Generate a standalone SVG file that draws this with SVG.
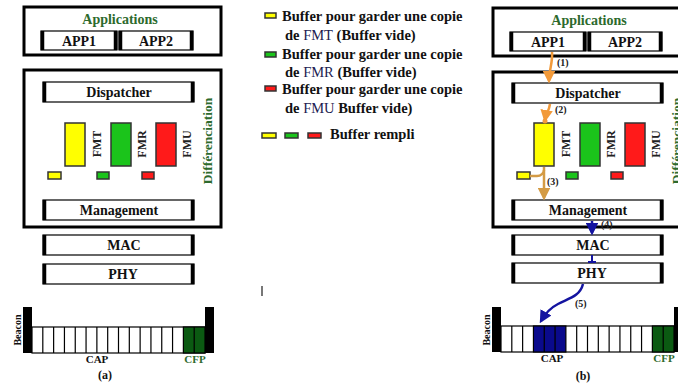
<svg xmlns="http://www.w3.org/2000/svg" width="678" height="390" viewBox="0 0 678 390" font-family="'Liberation Serif','Times New Roman',serif">
<style>
text{font-family:"Liberation Serif","Times New Roman",serif;font-weight:bold}
.outer{fill:none;stroke:#000;stroke-width:3}
.ib{fill:#fff;stroke:#000;stroke-width:1.2}
.cap{stroke:#000;stroke-width:3.5}
.lbl{font-size:14px;text-anchor:middle;fill:#111}
.grn{fill:#2d6a2d}
.bar{stroke:#333;stroke-width:1.5}
.y{fill:#ffff00}.g{fill:#1bc41b}.r{fill:#ff1a1a}
.vt{font-size:12px;text-anchor:middle;fill:#222}
.leg{font-size:14.5px;fill:#111}
.fm{font-weight:normal;fill:#1c1c50}
.slot{fill:#fff;stroke:#000;stroke-width:1.2}
.sl{stroke:#000;stroke-width:1.2}
.small{font-size:11px;text-anchor:middle}
.num{font-size:10px;fill:#222}
</style>
<defs>
<marker id="ao" viewBox="0 0 10 10" refX="8" refY="5" markerWidth="5" markerHeight="5" orient="auto"><path d="M0,0 L10,5 L0,10 Z" fill="#f29a3a"/></marker>
<marker id="at" viewBox="0 0 10 10" refX="8" refY="5" markerWidth="5" markerHeight="5" orient="auto"><path d="M0,0 L10,5 L0,10 Z" fill="#d49b45"/></marker>
<marker id="ab" viewBox="0 0 10 10" refX="8" refY="5" markerWidth="5" markerHeight="5" orient="auto"><path d="M0,0 L10,5 L0,10 Z" fill="#1414a0"/></marker>
</defs>

<!-- Panel (a) -->
<g id="a-applications">
<rect class="outer" x="24" y="7" width="197" height="48"/>
<text class="lbl grn" x="120" y="24">Applications</text>
</g>
<g id="a-app1"><rect class="ib" x="41" y="31" width="76" height="19"/><path class="cap" d="M42.5,31V50M115.5,31V50"/><text class="lbl" x="79" y="46">APP1</text></g>
<g id="a-app2"><rect class="ib" x="119" y="31" width="74" height="19"/><path class="cap" d="M120.5,31V50M191.5,31V50"/><text class="lbl" x="156" y="46">APP2</text></g>
<g id="a-diff">
<rect class="outer" x="24" y="70" width="197" height="157"/>
<text class="grn" font-size="13.5" text-anchor="middle" transform="translate(212,141) rotate(-90)">Différenciation</text>
</g>
<g id="a-dispatcher"><rect class="ib" x="43" y="82" width="151" height="20"/><path class="cap" d="M44.5,82V102M192.5,82V102"/><text class="lbl" x="119" y="97">Dispatcher</text></g>
<g id="a-fmt"><rect class="bar y" x="65" y="123" width="20" height="43"/><text class="vt" transform="translate(101,144) rotate(-90)">FMT</text><rect class="bar y" x="48" y="172" width="13" height="7"/></g>
<g id="a-fmr"><rect class="bar g" x="111" y="123" width="20" height="43"/><text class="vt" transform="translate(146,144) rotate(-90)">FMR</text><rect class="bar g" x="97" y="172" width="12" height="7"/></g>
<g id="a-fmu"><rect class="bar r" x="156" y="123" width="20" height="43"/><text class="vt" transform="translate(191,144) rotate(-90)">FMU</text><rect class="bar r" x="142" y="172" width="12" height="7"/></g>
<g id="a-management"><rect class="ib" x="43" y="200" width="151" height="20"/><path class="cap" d="M44.5,200V220M192.5,200V220"/><text class="lbl" x="119" y="215">Management</text></g>
<g id="a-mac"><rect class="ib" x="43" y="235" width="151" height="20"/><path class="cap" d="M44.5,235V255M192.5,235V255"/><text class="lbl" x="124" y="250">MAC</text></g>
<g id="a-phy"><rect class="ib" x="43" y="264" width="151" height="20"/><path class="cap" d="M44.5,264V284M192.5,264V284"/><text class="lbl" x="123" y="279">PHY</text></g>
<g id="a-superframe">
<rect x="23" y="307" width="9" height="46" fill="#000"/>
<rect x="205" y="307" width="9" height="46" fill="#000"/>
<rect class="slot" x="32" y="327" width="173" height="26"/>
<rect x="183.38" y="327" width="21.62" height="26" fill="#0b5a12" stroke="#000" stroke-width="1.2"/>
<path class="sl" d="M42.81,327V353M53.63,327V353M64.44,327V353M75.25,327V353M86.06,327V353M96.88,327V353M107.69,327V353M118.5,327V353M129.31,327V353M140.13,327V353M150.94,327V353M161.75,327V353M172.56,327V353M194.19,327V353"/>
<text font-size="10" text-anchor="middle" fill="#111" transform="translate(21,330) rotate(-90)">Beacon</text>
<text class="small" x="97" y="363" fill="#111">CAP</text>
<text class="small grn" x="195" y="363">CFP</text>
</g>
<text id="a-caption" x="105" y="379" font-size="12" text-anchor="middle" fill="#111">(a)</text>

<!-- Legend -->
<g id="legend">
<rect class="bar y" x="265" y="13" width="11" height="5" stroke-width="1.2"/>
<text class="leg" x="282" y="21">Buffer pour garder une copie</text>
<text class="leg" x="285" y="40">de <tspan class="fm">FMT</tspan> (Buffer vide)</text>
<rect class="bar g" x="265" y="52" width="11" height="5" stroke-width="1.2"/>
<text class="leg" x="282" y="59">Buffer pour garder une copie</text>
<text class="leg" x="285" y="77">de <tspan class="fm">FMR</tspan> (Buffer vide)</text>
<rect class="bar r" x="265" y="86" width="11" height="5" stroke-width="1.2"/>
<text class="leg" x="282" y="94">Buffer pour garder une copie</text>
<text class="leg" x="285" y="113">de <tspan class="fm">FMU</tspan> Buffer vide)</text>
<rect class="bar y" x="262" y="133" width="14" height="5" stroke-width="1.2"/>
<rect class="bar g" x="285" y="133" width="13" height="5" stroke-width="1.2"/>
<rect class="bar r" x="308" y="133" width="13" height="5" stroke-width="1.2"/>
<text class="leg" x="330" y="139">Buffer rempli</text>
</g>
<rect x="261" y="286" width="2" height="10" fill="#777"/>

<!-- Panel (b) -->
<g id="b-applications">
<rect class="outer" x="493" y="8" width="197" height="48"/>
<text class="lbl grn" x="589" y="25">Applications</text>
</g>
<g id="b-app1"><rect class="ib" x="510" y="32" width="76" height="19"/><path class="cap" d="M511.5,32V51M584.5,32V51"/><text class="lbl" x="548" y="47">APP1</text></g>
<g id="b-app2"><rect class="ib" x="588" y="32" width="74" height="19"/><path class="cap" d="M589.5,32V51M660.5,32V51"/><text class="lbl" x="625" y="47">APP2</text></g>
<g id="b-diff">
<rect class="outer" x="493" y="72" width="197" height="155"/>
<text class="grn" font-size="13.5" text-anchor="middle" transform="translate(681,141) rotate(-90)">Différenciation</text>
</g>
<g id="b-dispatcher"><rect class="ib" x="512" y="83" width="151" height="20"/><path class="cap" d="M513.5,83V103M661.5,83V103"/><text class="lbl" x="588" y="98">Dispatcher</text></g>
<g id="b-fmt"><rect class="bar y" x="534" y="123" width="20" height="43"/><text class="vt" transform="translate(570,144) rotate(-90)">FMT</text><rect class="bar y" x="517" y="172" width="13" height="7"/></g>
<g id="b-fmr"><rect class="bar g" x="580" y="123" width="20" height="43"/><text class="vt" transform="translate(615,144) rotate(-90)">FMR</text><rect class="bar g" x="566" y="172" width="12" height="7"/></g>
<g id="b-fmu"><rect class="bar r" x="625" y="123" width="20" height="43"/><text class="vt" transform="translate(660,144) rotate(-90)">FMU</text><rect class="bar r" x="611" y="172" width="12" height="7"/></g>
<g id="b-management"><rect class="ib" x="512" y="200" width="151" height="20"/><path class="cap" d="M513.5,200V220M661.5,200V220"/><text class="lbl" x="588" y="215">Management</text></g>
<g id="b-mac"><rect class="ib" x="512" y="235" width="151" height="20"/><path class="cap" d="M513.5,235V255M661.5,235V255"/><text class="lbl" x="593" y="250">MAC</text></g>
<g id="b-phy"><rect class="ib" x="512" y="263" width="151" height="20"/><path class="cap" d="M513.5,263V283M661.5,263V283"/><text class="lbl" x="592" y="278">PHY</text></g>
<g id="b-superframe">
<rect x="492" y="307" width="9" height="45" fill="#000"/>
<rect x="674" y="307" width="9" height="45" fill="#000"/>
<rect class="slot" x="501" y="326" width="173" height="26"/>
<rect x="533.44" y="326" width="32.44" height="26" fill="#0a0a8c" stroke="#000" stroke-width="1.2"/>
<rect x="652.38" y="326" width="21.62" height="26" fill="#0b5a12" stroke="#000" stroke-width="1.2"/>
<path class="sl" d="M511.81,326V352M522.63,326V352M544.25,326V352M555.06,326V352M576.69,326V352M587.5,326V352M598.31,326V352M609.13,326V352M619.94,326V352M630.75,326V352M641.56,326V352M663.19,326V352"/>
<text font-size="10" text-anchor="middle" fill="#111" transform="translate(490,330) rotate(-90)">Beacon</text>
<text class="small" x="552" y="362" fill="#111">CAP</text>
<text class="small grn" x="664" y="362">CFP</text>
</g>
<text id="b-caption" x="583" y="380" font-size="12" text-anchor="middle" fill="#111">(b)</text>

<g id="connectors" fill="none">
<path d="M552,52 C553,62 549,70 549,81" stroke="#f29a3a" stroke-width="2.5" marker-end="url(#ao)"/>
<text class="num" x="557" y="66">(1)</text>
<path d="M550,104 C549,111 546,114 545,120" stroke="#f29a3a" stroke-width="2.5" marker-end="url(#ao)"/>
<circle cx="545" cy="121" r="2.5" fill="#f29a3a"/>
<text class="num" x="555" y="113">(2)</text>
<path d="M544,167 V198" stroke="#d49b45" stroke-width="2.5" marker-end="url(#at)"/>
<path d="M530,176 H537 C541,176 544,173 544,170" stroke="#d49b45" stroke-width="2.5"/>
<text class="num" x="547" y="185">(3)</text>
<path d="M592,221 V233" stroke="#1414a0" stroke-width="2.5" marker-end="url(#ab)"/>
<circle cx="592" cy="229" r="2.5" fill="#1414a0"/>
<text class="num" x="601" y="228">(4)</text>
<path d="M592,255 V262 M588,262 H596" stroke="#1414a0" stroke-width="2"/>
<path d="M583,284 C580,296 570,298 558,304 C550,308 545,314 541,321" stroke="#1414a0" stroke-width="2.5" marker-end="url(#ab)"/>
<text class="num" x="575" y="307">(5)</text>
</g>
</svg>
